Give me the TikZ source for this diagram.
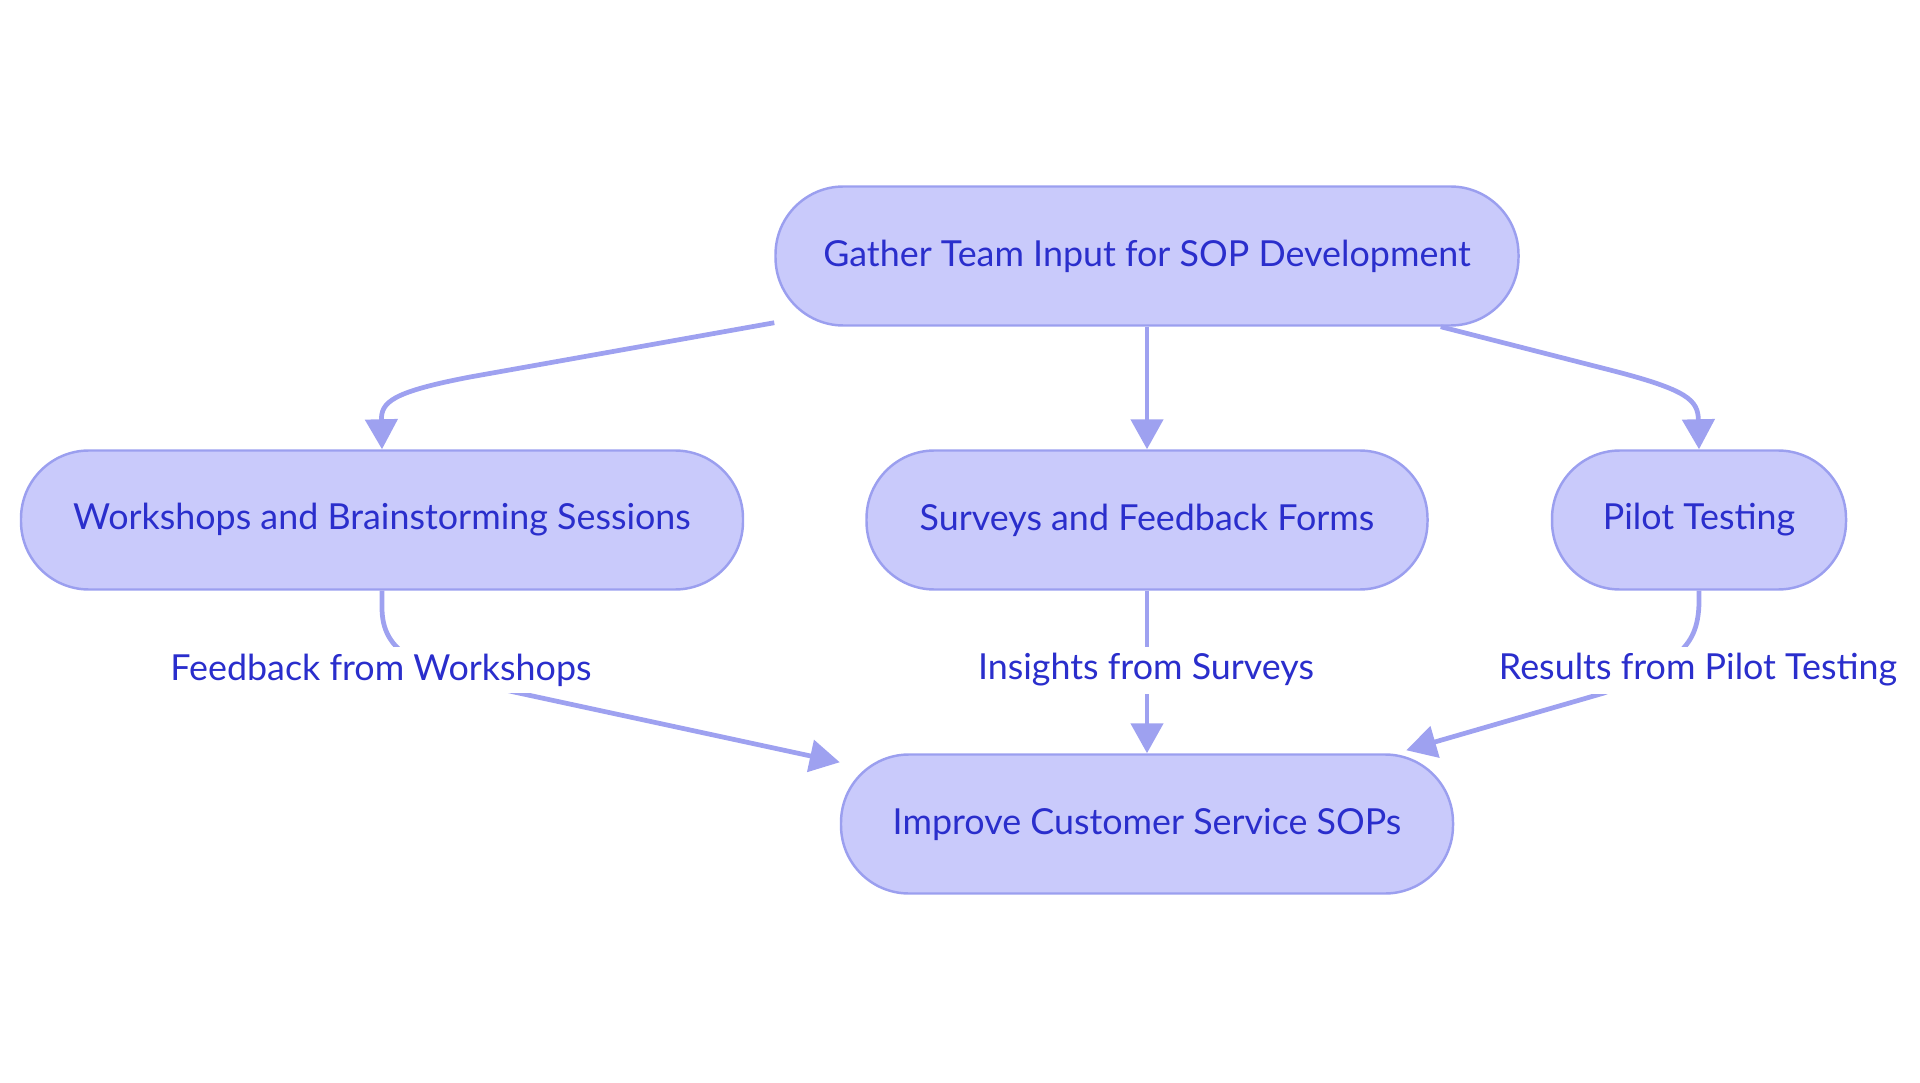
\documentclass[tikz,border=0pt]{standalone}
\usepackage{fontspec}
\setmainfont{Lato}
\usetikzlibrary{arrows.meta,positioning,calc}
\definecolor{boxfill}{HTML}{C9CAFB}
\definecolor{boxline}{HTML}{9B9FEF}
\definecolor{wire}{HTML}{9EA1F0}
\definecolor{ink}{HTML}{2A2ECC}

\begin{document}
\begin{tikzpicture}[>={Triangle[length=0.3cm,width=0.32cm]},node distance=3cm,
    box/.style={draw=boxline, fill=boxfill, text=ink, line width=0.7pt,
      rounded corners=0.68cm, minimum height=1.39cm, inner xsep=0.3cm,
      font=\fontsize{10.2}{12}\selectfont},
    link/.style={->, draw=wire, line width=1.35pt},
    lbl/.style={fill=white, text=ink, inner sep=2pt, minimum height=0.44cm,
      font=\fontsize{10.2}{12}\selectfont}]
    \useasboundingbox (0,0) rectangle (19.2,-10.83);

    \node[box, minimum width=7.43cm] (gather) at (11.47,-2.56) {Gather Team Input for SOP Development};
    \node[box, minimum width=5.61cm] (surv)  [below of=gather, node distance=2.64cm] {Surveys and Feedback Forms};
    \node[box, minimum width=7.22cm] (work)  [left of=surv, node distance=7.65cm]   {Workshops and Brainstorming Sessions};
    \node[box, minimum width=2.94cm] (pilot) [right of=surv, node distance=5.52cm]  {Pilot Testing};
    \node[box, minimum width=6.12cm] (impr)  [below of=surv, node distance=3.04cm]  {Improve Customer Service SOPs};

    \draw[link] ([yshift=0.04cm]gather.south west) -- (4.7,-3.77)
      .. controls (3.92,-3.92) and (3.81,-4.02) .. (work.north);
    \draw[link] (gather.south) -- (surv.north);
    \draw[link] ([xshift=-0.79cm]gather.south east) -- (16.1,-3.70)
      .. controls (16.88,-3.90) and (16.98,-4.0) .. (pilot.north);

    \draw[link] (work.south) -- ++(0,-0.15)
      .. controls (3.81,-6.55) and (4.2,-6.7) .. (5.14,-6.92)
      -- ([yshift=-0.09cm]impr.north west);
    \draw[link] (surv.south) -- (impr.north);
    \draw[link] (pilot.south) -- ++(0,-0.12)
      .. controls (16.98,-6.45) and (16.8,-6.62) .. (16.04,-6.93)
      -- ([xshift=-0.48cm,yshift=0.03cm]impr.north east);

    \node[lbl] (lwork)  at (3.81,-6.70)  {Feedback from Workshops};
    \node[lbl] (lsurv)  at (11.46,-6.70) {Insights from Surveys};
    \node[lbl] (lpilot) at (16.98,-6.70) {Results from Pilot Testing};
\end{tikzpicture}
\end{document}
